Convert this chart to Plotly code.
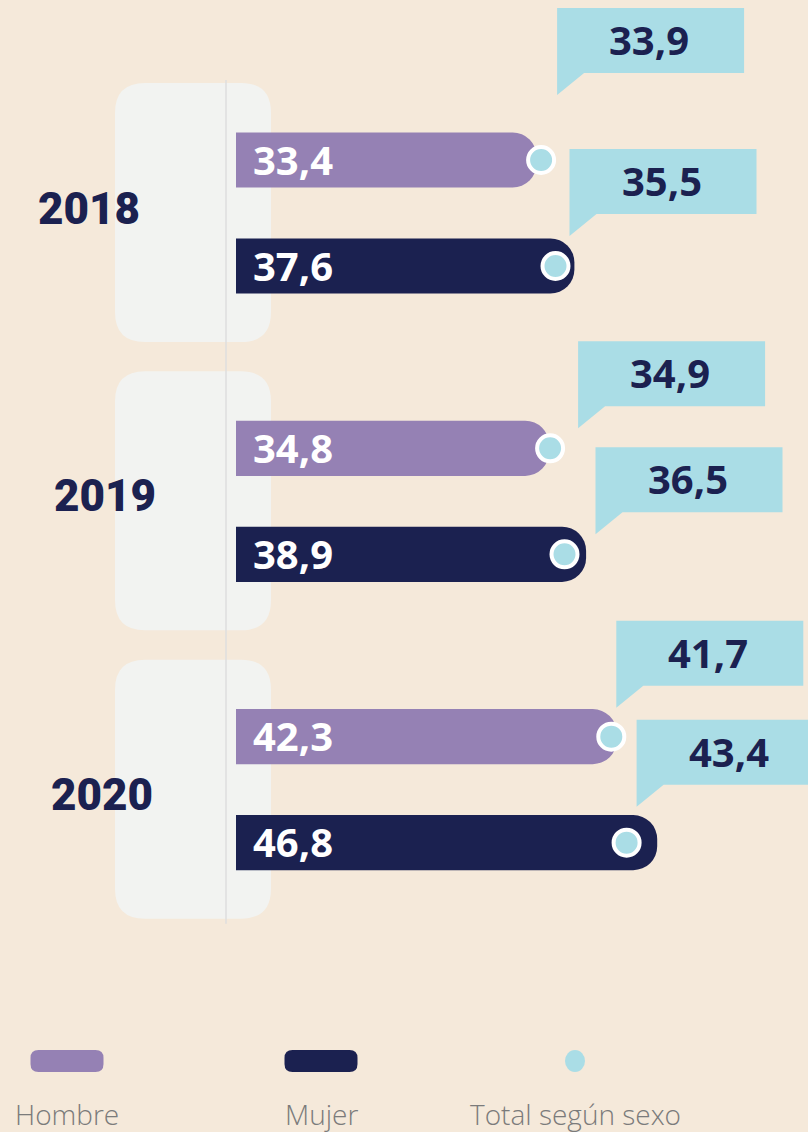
import plotly.graph_objects as go

# ---------------- data ----------------
years = ["2018", "2019", "2020"]
hombre = [33.4, 34.8, 42.3]
mujer = [37.6, 38.9, 46.8]
total_hombre = [33.9, 34.9, 41.7]
total_mujer = [35.5, 36.5, 43.4]
legend_labels = ["Hombre", "Mujer", "Total según sexo"]

# ---------------- style ----------------
BG = "#f5e9da"
PURPLE = "#9581b4"
NAVY = "#1b2150"
LBLUE = "#aadde6"
PANEL = "#f2f3f1"
W, H = 808, 1132
X0_PX, PX_PER_UNIT = 236, 9.0       # where value 0 sits, scale
Y0_PX, PX_PER_ROW = 213, 106        # first group centre, row scale
GROUP_STEP = 2.72
NUM_FONT = "Open Sans"

# callout placement tweaks (pixels): horizontal offset of tail, lift of tail tip
callout_dx = [16, 14, 28, 31, 5, 10]
callout_lift = [65, 30, 20, 20, 29, 36]
year_xshift = [-147, -131, -134]
year_yshift = [4, 5, -5]


def fmt(v):
    return f"{v:.1f}".replace(".", ",")


def rrect(x0, y0, x1, y1, r):
    return (f"M {x0+r},{y0} L {x1-r},{y0} Q {x1},{y0} {x1},{y0+r} "
            f"L {x1},{y1-r} Q {x1},{y1} {x1-r},{y1} L {x0+r},{y1} "
            f"Q {x0},{y1} {x0},{y1-r} L {x0},{y0+r} Q {x0},{y0} {x0+r},{y0} Z")


centers = [i * GROUP_STEP for i in range(len(years))]
y_h = [c - 0.5 for c in centers]
y_m = [c + 0.5 for c in centers]

fig = go.Figure()

fig.add_trace(go.Bar(x=hombre, y=y_h, orientation="h", width=0.52,
                     marker=dict(color=PURPLE, cornerradius=24, line=dict(width=0)),
                     hoverinfo="skip", showlegend=False))
fig.add_trace(go.Bar(x=mujer, y=y_m, orientation="h", width=0.52,
                     marker=dict(color=NAVY, cornerradius=24, line=dict(width=0)),
                     hoverinfo="skip", showlegend=False))

dots_x, dots_y = [], []
for i in range(len(years)):
    dots_x += [total_hombre[i], total_mujer[i]]
    dots_y += [y_h[i], y_m[i]]
fig.add_trace(go.Scatter(x=dots_x, y=dots_y, mode="markers",
                         marker=dict(size=26, color=LBLUE, line=dict(color="white", width=4)),
                         hoverinfo="skip", showlegend=False))

shapes = []
annotations = []

# grey year panels + thin vertical line
for c in centers:
    shapes.append(dict(type="path", layer="below", xref="x", yref="y",
                       xsizemode="pixel", ysizemode="pixel", xanchor=0, yanchor=c,
                       path=rrect(-121, -129, 35, 130, 30),
                       fillcolor=PANEL, line=dict(width=0)))
shapes.append(dict(type="line", layer="below", xref="x", yref="y",
                   x0=-10 / PX_PER_UNIT, x1=-10 / PX_PER_UNIT,
                   y0=centers[0] - 133 / PX_PER_ROW, y1=centers[-1] + 134 / PX_PER_ROW,
                   line=dict(color="#dedede", width=1.5)))

# year labels
for yr, c, xs, ys in zip(years, centers, year_xshift, year_yshift):
    annotations.append(dict(x=0, y=c, xref="x", yref="y", text=yr, showarrow=False,
                            xanchor="center", yanchor="middle", xshift=xs, yshift=ys,
                            font=dict(family="Roboto", size=44, color=NAVY, weight=900)))

# bar value labels
for i in range(len(years)):
    for v, yy in ((hombre[i], y_h[i]), (mujer[i], y_m[i])):
        annotations.append(dict(x=0, y=yy, xref="x", yref="y", text=fmt(v), showarrow=False,
                                xanchor="left", yanchor="middle", xshift=15, yshift=1,
                                font=dict(family=NUM_FONT, size=40, color="white", weight=700)))

# callouts
k = 0
for i in range(len(years)):
    for v, yy in ((total_hombre[i], y_h[i]), (total_mujer[i], y_m[i])):
        dx, lift = callout_dx[k], callout_lift[k]
        bot, top = lift + 22, lift + 22 + 65
        path = (f"M {dx},{lift} L {dx},{top} L {dx+187},{top} L {dx+187},{bot} "
                f"L {dx+27},{bot} Z")
        shapes.append(dict(type="path", layer="above", xref="x", yref="y",
                           xsizemode="pixel", ysizemode="pixel", xanchor=v, yanchor=yy,
                           path=path, fillcolor=LBLUE, line=dict(width=0)))
        annotations.append(dict(x=v, y=yy, xref="x", yref="y", text=fmt(v), showarrow=False,
                                xanchor="center", yanchor="middle",
                                xshift=dx + 92, yshift=(bot + top) / 2 + 1,
                                font=dict(family=NUM_FONT, size=40, color=NAVY, weight=700)))
        k += 1

# legend (drawn manually)
leg_colors = [PURPLE, NAVY, LBLUE]
for j, (lab, col) in enumerate(zip(legend_labels, leg_colors)):
    cx = (67 + j * 254) / W
    cy = 1 - 1061 / H
    if j < 2:
        shapes.append(dict(type="path", xref="paper", yref="paper",
                           xsizemode="pixel", ysizemode="pixel", xanchor=cx, yanchor=cy,
                           path=rrect(-36.5, -11, 36.5, 11, 8),
                           fillcolor=col, line=dict(width=0)))
    else:
        shapes.append(dict(type="circle", xref="paper", yref="paper",
                           xsizemode="pixel", ysizemode="pixel", xanchor=cx, yanchor=cy,
                           x0=-10, x1=10, y0=-11, y1=11,
                           fillcolor=col, line=dict(width=0)))
    annotations.append(dict(x=cx, y=1 - 1114 / H, xref="paper", yref="paper", text=lab,
                            showarrow=False, xanchor="center", yanchor="middle",
                            font=dict(family="Open Sans", size=28, color="#7b7b7b", weight=300)))

fig.update_layout(
    width=W, height=H,
    margin=dict(l=0, r=0, t=0, b=0),
    paper_bgcolor=BG, plot_bgcolor=BG,
    barmode="overlay",
    showlegend=False,
    xaxis=dict(range=[-X0_PX / PX_PER_UNIT, (W - X0_PX) / PX_PER_UNIT],
               visible=False, fixedrange=True),
    yaxis=dict(range=[(H - Y0_PX) / PX_PER_ROW, -Y0_PX / PX_PER_ROW],
               visible=False, fixedrange=True),
    shapes=shapes,
    annotations=annotations,
)

fig.write_html("out.html", config={"displayModeBar": False},
               post_script="document.body.style.margin='0';document.body.style.overflow='hidden';")
